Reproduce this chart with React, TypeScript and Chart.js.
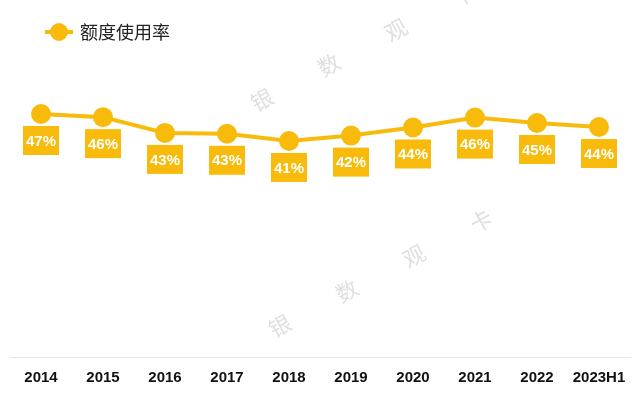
import React, { useEffect, useRef } from "react";
import { Chart, registerables } from "chart.js";

Chart.register(...registerables);

const categories = ["2014", "2015", "2016", "2017", "2018", "2019", "2020", "2021", "2022", "2023H1"];
const usageRate = [47, 46.3, 42.8, 42.6, 41, 42.2, 44, 46.2, 45, 44.1];
const usageLabels = ["47%", "46%", "43%", "43%", "41%", "42%", "44%", "46%", "45%", "44%"];
const seriesName = "额度使用率";
const watermarkChars = ["银", "数", "观", "卡"];

const COLOR = "#F9BB0B";

const decorPlugin = {
  id: "decor",
  beforeDraw(chart: any) {
    const ctx = chart.ctx;
    ctx.save();
    ctx.fillStyle = "#ffffff";
    ctx.fillRect(0, 0, chart.width, chart.height);
    // watermark
    ctx.fillStyle = "rgba(170,170,170,0.38)";
    ctx.font = "22px 'Noto Sans CJK SC'";
    ctx.textAlign = "center";
    ctx.textBaseline = "middle";
    const groups = [
      { x: 262, y: 100 },
      { x: 280, y: 326 },
    ];
    groups.forEach((g) => {
      watermarkChars.forEach((ch, i) => {
        ctx.save();
        ctx.translate(g.x + i * 67, g.y - i * 35);
        ctx.rotate(-0.5);
        ctx.fillText(ch, 0, 0);
        ctx.restore();
      });
    });
    // legend
    ctx.strokeStyle = COLOR;
    ctx.lineWidth = 4;
    ctx.beginPath();
    ctx.moveTo(45, 32);
    ctx.lineTo(73, 32);
    ctx.stroke();
    ctx.fillStyle = COLOR;
    ctx.beginPath();
    ctx.arc(59, 32, 9, 0, Math.PI * 2);
    ctx.fill();
    ctx.fillStyle = "#222222";
    ctx.font = "18px 'Noto Sans CJK SC'";
    ctx.textAlign = "left";
    ctx.textBaseline = "middle";
    ctx.fillText(seriesName, 80, 32);
    ctx.restore();
  },
  afterDatasetsDraw(chart: any) {
    const ctx = chart.ctx;
    const meta = chart.getDatasetMeta(0);
    ctx.save();
    meta.data.forEach((pt: any, i: number) => {
      const w = 36;
      const h = 29;
      const x = pt.x;
      const top = pt.y + 12;
      ctx.fillStyle = COLOR;
      ctx.fillRect(x - w / 2, top, w, h);
      ctx.fillStyle = "#ffffff";
      ctx.font = "bold 15px 'Liberation Sans'";
      ctx.textAlign = "center";
      ctx.textBaseline = "middle";
      ctx.fillText(usageLabels[i], x, top + h / 2 + 1);
    });
    ctx.restore();
  },
};

export default function App() {
  const ref = useRef<HTMLCanvasElement>(null);
  useEffect(() => {
    if (!ref.current) return;
    const chart = new Chart(ref.current, {
      type: "line",
      data: {
        labels: categories,
        datasets: [
          {
            label: seriesName,
            data: usageRate,
            borderColor: COLOR,
            backgroundColor: COLOR,
            borderWidth: 4,
            pointRadius: 10,
            pointHoverRadius: 10,
            pointBackgroundColor: COLOR,
            pointBorderColor: COLOR,
            pointBorderWidth: 0,
            tension: 0,
          },
        ],
      },
      options: {
        animation: false,
        responsive: false,
        layout: { padding: { top: 60, left: 5, right: 10, bottom: 13 } },
        plugins: { legend: { display: false }, tooltip: { enabled: false } },
        scales: {
          x: {
            offset: true,
            grid: { display: false, drawTicks: false },
            border: { display: true, color: "#e6e6e6", width: 1 },
            afterFit(scale: any) {
              scale.height = 30;
            },
            ticks: {
              padding: 12,
              color: "#111111",
              font: { family: "'Liberation Sans'", size: 15, weight: "bold" },
              maxRotation: 0,
              autoSkip: false,
            },
          },
          y: { display: false, min: -7, max: 59 },
        },
      },
      plugins: [decorPlugin],
    });
    return () => chart.destroy();
  }, []);
  return (
    <div style={{ position: "fixed", left: 0, top: 0, width: 640, height: 400 }}>
      <canvas ref={ref} width={640} height={400} />
    </div>
  );
}
